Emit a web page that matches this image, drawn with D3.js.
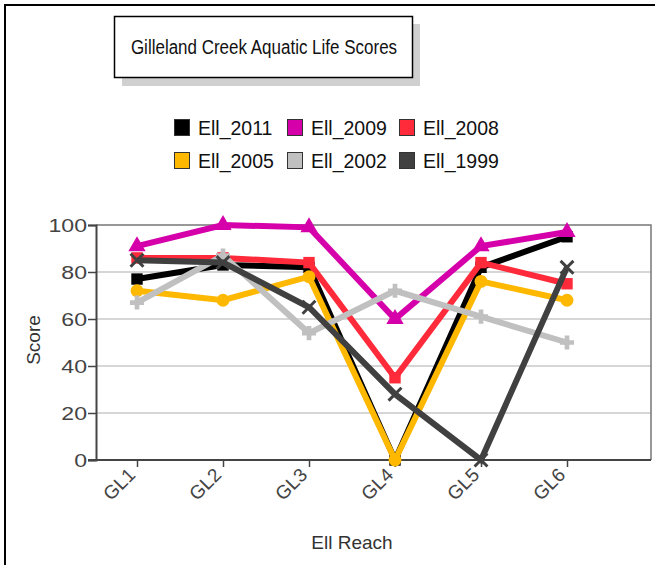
<!DOCTYPE html>
<html><head><meta charset="utf-8">
<script src="https://cdn.jsdelivr.net/npm/d3@7"></script>
<style>body{margin:0;background:#fff}svg{display:block}</style>
</head><body>
<script>
const categories = ["GL1","GL2","GL3","GL4","GL5","GL6"];
const seriesNames = ["Ell_2011","Ell_2009","Ell_2008","Ell_2005","Ell_2002","Ell_1999"];
const ell2011 = [77, 83, 82, 0, 82, 95];
const ell2009 = [91, 100, 99, 60, 91, 97];
const ell2008 = [86, 86, 84, 35, 84, 75];
const ell2005 = [72, 68, 78, 0, 76, 68];
const ell2002 = [67, 87, 54, 72, 61, 50];
const ell1999 = [85, 84, 65, 28, 0, 82];
const yTicks = [0, 20, 40, 60, 80, 100];
const colors = ["#000000","#d600aa","#ff2a3a","#ffb800","#c0c0c0","#404040"];
const symbols = [d3.symbolSquare, d3.symbolTriangle, d3.symbolSquare, d3.symbolCircle, d3.symbolCross, d3.symbolX];
const seriesValues = [ell2011, ell2009, ell2008, ell2005, ell2002, ell1999];

(function(){
const W = 655, H = 565;
const font = "'Liberation Sans', Arial, sans-serif";
const svg = d3.select("body").append("svg").attr("width", W).attr("height", H);

// outer frame
svg.append("rect").attr("x",5).attr("y",5).attr("width",W+20).attr("height",H+20)
  .attr("fill","#fff").attr("stroke","#000").attr("stroke-width",2);

// title box with shadow
svg.append("rect").attr("x",122).attr("y",24).attr("width",298).attr("height",62).attr("fill","#d0d0d0");
svg.append("rect").attr("x",114.5).attr("y",16.5).attr("width",298).attr("height",61)
  .attr("fill","#fff").attr("stroke","#000").attr("stroke-width",1.5);
svg.append("text").attr("x",264).attr("y",54).attr("text-anchor","middle")
  .attr("font-family",font).attr("font-size",17).attr("fill","#111")
  .attr("transform","translate(264,54) scale(1,1.15) translate(-264,-54)")
  .text("Gilleland Creek Aquatic Life Scores");

// legend
const legCols = [174, 287, 399], legRows = [119, 152];
seriesNames.forEach((n,i)=>{
  const lx = legCols[i%3], ly = legRows[Math.floor(i/3)];
  const g = svg.append("g");
  g.append("rect").attr("x",lx+0.5).attr("y",ly+0.5).attr("width",15).attr("height",16)
    .attr("fill",colors[i]).attr("stroke","#333").attr("stroke-width",1);
  g.append("text").attr("x",lx+24).attr("y",ly+15.5).attr("font-family",font).attr("font-size",19.5)
    .attr("fill","#111").text(n);
});

// plot area
const pL = 96, pR = 651, pT = 225, pB = 460;
const x = d3.scalePoint().domain(categories).range([137, 567]);
const y = d3.scaleLinear().domain([0,100]).range([pB, pT]);

// grid
svg.append("g").selectAll("line").data(yTicks.filter(t=>t>0 && t<100)).join("line")
  .attr("x1",pL).attr("x2",pR).attr("y1",d=>y(d)).attr("y2",d=>y(d))
  .attr("stroke","#c8c8c8").attr("stroke-width",1.5);
// frame top/right
svg.append("path").attr("d",`M${pL},${pT}H${pR}V${pB}`).attr("fill","none")
  .attr("stroke","#777").attr("stroke-width",1.5);

// y axis
const yAxis = svg.append("g").attr("transform",`translate(${pL},0)`)
  .call(d3.axisLeft(y).tickValues(yTicks).tickSize(8).tickPadding(2));
yAxis.select(".domain").attr("stroke","#444").attr("stroke-width",2);
yAxis.selectAll(".tick line").attr("stroke","#444").attr("stroke-width",1.5);
yAxis.selectAll("text").attr("font-family",font).attr("font-size",18.5).attr("fill","#444")
  .attr("dy","0.36em").attr("x",0).attr("transform","translate(-9,0) scale(1.25,1)");

// x axis
const xAxis = svg.append("g").attr("transform",`translate(0,${pB})`)
  .call(d3.axisBottom(x).tickSize(7).tickPadding(2));
xAxis.select(".domain").attr("d",`M88,0H${pR}`).attr("stroke","#444").attr("stroke-width",2);
xAxis.selectAll(".tick line").attr("stroke","#444").attr("stroke-width",1.5);
xAxis.selectAll("text").attr("font-family",font).attr("font-size",19).attr("fill","#444")
  .attr("text-anchor","end").attr("dy",null).attr("y",0)
  .attr("transform","translate(-1,16) rotate(-45)");

// axis titles
svg.append("text").attr("transform","translate(40,340) rotate(-90)").attr("text-anchor","middle")
  .attr("font-family",font).attr("font-size",19).attr("fill","#333").text("Score");
svg.append("text").attr("x",352).attr("y",549).attr("text-anchor","middle")
  .attr("font-family",font).attr("font-size",19).attr("fill","#333").text("Ell Reach");

// series
const line = d3.line().x((d,i)=>x(categories[i])).y(d=>y(d));
seriesValues.forEach((vals,i)=>{
  const g = svg.append("g");
  g.append("path").datum(vals).attr("d",line).attr("fill","none")
    .attr("stroke",colors[i]).attr("stroke-width",6).attr("stroke-linejoin","miter");
  g.selectAll("path.m").data(vals).join("path").attr("class","m")
    .attr("transform",(d,j)=>`translate(${x(categories[j])},${y(d)})`)
    .attr("d",d3.symbol().type(symbols[i]).size(symbols[i]===d3.symbolX||symbols[i]===d3.symbolCross?110:130))
    .attr("fill",colors[i]).attr("stroke",colors[i])
    .attr("stroke-width",symbols[i]===d3.symbolX?3:0);
});
})();
</script>
</body></html>
